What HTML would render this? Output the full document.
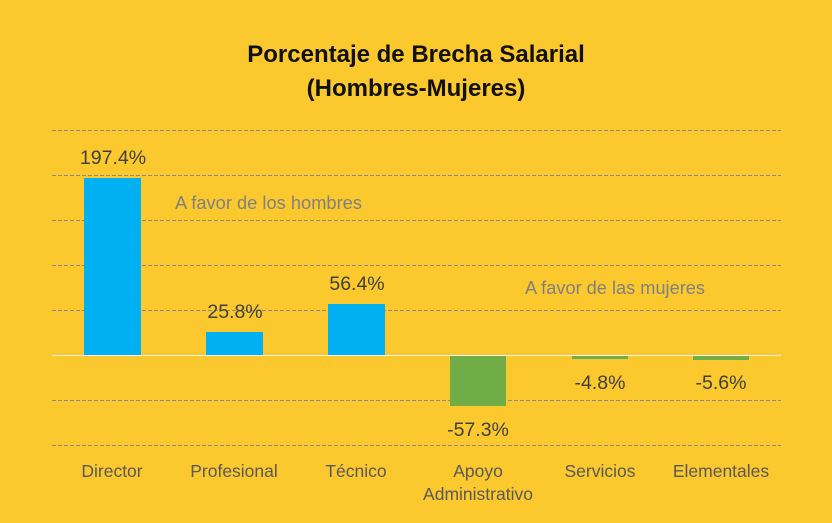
<!DOCTYPE html>
<html><head><style>
html,body{margin:0;padding:0;background:#FBC82E;}
svg{display:block;font-family:"Liberation Sans",sans-serif;}
</style></head><body>
<svg width="832" height="523" viewBox="0 0 832 523">
<rect width="832" height="523" fill="#FBC82E"/>
<text x="416" y="62" text-anchor="middle" font-size="24" font-weight="bold" fill="#111">Porcentaje de Brecha Salarial</text>
<text x="416" y="96" text-anchor="middle" font-size="24" font-weight="bold" fill="#111">(Hombres-Mujeres)</text>
<g stroke="#8a8a8a" stroke-width="1" stroke-dasharray="4,2">
<line x1="52" y1="130.5" x2="781" y2="130.5"/>
<line x1="52" y1="175.5" x2="781" y2="175.5"/>
<line x1="52" y1="220.5" x2="781" y2="220.5"/>
<line x1="52" y1="265.5" x2="781" y2="265.5"/>
<line x1="52" y1="310.5" x2="781" y2="310.5"/>
<line x1="52" y1="400.5" x2="781" y2="400.5"/>
<line x1="52" y1="445.5" x2="781" y2="445.5"/>
</g>
<g fill="#00B0F0">
<rect x="84" y="178" width="57" height="177"/>
<rect x="206" y="332" width="57" height="23"/>
<rect x="328" y="304" width="57" height="51"/>
</g>
<g fill="#70AD47">
<rect x="450" y="355" width="56" height="51"/>
<rect x="572" y="355" width="56" height="4"/>
<rect x="693" y="355" width="56" height="5"/>
</g>
<line x1="52" y1="355.5" x2="781" y2="355.5" stroke="#f2f2f2" stroke-width="1"/>
<g font-size="19.5" fill="#404040" text-anchor="middle">
<text x="113" y="164">197.4%</text>
<text x="235" y="318">25.8%</text>
<text x="357" y="290">56.4%</text>
<text x="478" y="436">-57.3%</text>
<text x="600" y="389">-4.8%</text>
<text x="721" y="389">-5.6%</text>
</g>
<g font-size="18" fill="#808080">
<text x="175" y="209" textLength="187" lengthAdjust="spacingAndGlyphs">A favor de los hombres</text>
<text x="525" y="294" textLength="180" lengthAdjust="spacingAndGlyphs">A favor de las mujeres</text>
</g>
<g font-size="17.5" fill="#595959" text-anchor="middle">
<text x="112" y="477">Director</text>
<text x="234" y="477">Profesional</text>
<text x="356" y="477">Técnico</text>
<text x="478" y="477">Apoyo</text>
<text x="478" y="500">Administrativo</text>
<text x="600" y="477">Servicios</text>
<text x="721" y="477">Elementales</text>
</g>
</svg>
</body></html>
